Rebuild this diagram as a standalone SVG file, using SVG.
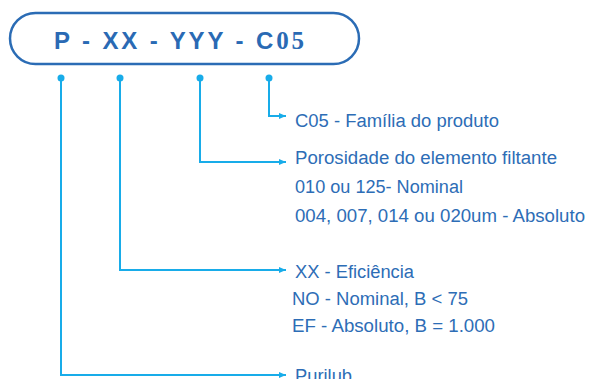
<svg xmlns="http://www.w3.org/2000/svg" width="591" height="379" viewBox="0 0 591 379">
<defs>
<style>
.lbl{font-family:"Liberation Sans",Arial,sans-serif;font-size:18px;fill:#2d6db6}
.ttl{font-family:"Liberation Sans",Arial,sans-serif;font-size:24px;font-weight:bold;fill:#2a6ab4}
.con{fill:none;stroke:#18ace9;stroke-width:2}
.dot{fill:#18ace9}
</style>
<marker id="arr" markerWidth="8" markerHeight="8" refX="7" refY="4" orient="auto" markerUnits="userSpaceOnUse">
<path d="M0,1 L7,4 L0,7 Z" fill="#18ace9"/>
</marker>
</defs>
<rect width="591" height="379" fill="#ffffff"/>
<g id="code">
<rect x="10" y="13" width="349" height="51" rx="25.5" ry="25.5" fill="none" stroke="#2b6cb5" stroke-width="2.5"/>
<text class="ttl" x="54" y="49" textLength="250" lengthAdjust="spacing">P - XX - YYY - C<tspan font-family="'Liberation Serif',serif" font-size="25">05</tspan></text>
</g>
<g id="connectors">
<circle class="dot" cx="61" cy="78" r="3.5"/>
<circle class="dot" cx="120" cy="78" r="3.5"/>
<circle class="dot" cx="200" cy="78" r="3.5"/>
<circle class="dot" cx="269" cy="78" r="3.5"/>
<path class="con" d="M61,78 V375 H286" marker-end="url(#arr)"/>
<path class="con" d="M120,78 V270 H286" marker-end="url(#arr)"/>
<path class="con" d="M200,78 V162 H286" marker-end="url(#arr)"/>
<path class="con" d="M269,78 V116 H286" marker-end="url(#arr)"/>
</g>
<g id="familia">
<text class="lbl" x="295" y="127" textLength="204" lengthAdjust="spacingAndGlyphs">C05 - Família do produto</text>
</g>
<g id="porosidade">
<text class="lbl" x="295" y="164" textLength="262" lengthAdjust="spacingAndGlyphs">Porosidade do elemento filtante</text>
<text class="lbl" x="295" y="193" textLength="168" lengthAdjust="spacingAndGlyphs">010 ou 125- Nominal</text>
<text class="lbl" x="295" y="222" textLength="290" lengthAdjust="spacingAndGlyphs">004, 007, 014 ou 020um - Absoluto</text>
</g>
<g id="eficiencia">
<text class="lbl" x="295" y="278" textLength="119" lengthAdjust="spacingAndGlyphs">XX - Eficiência</text>
<text class="lbl" x="292" y="305" textLength="176" lengthAdjust="spacingAndGlyphs">NO - Nominal,  B &lt; 75</text>
<text class="lbl" x="292" y="332" textLength="203" lengthAdjust="spacingAndGlyphs">EF - Absoluto, B = 1.000</text>
</g>
<g id="purilub">
<text class="lbl" x="295" y="382" textLength="57" lengthAdjust="spacingAndGlyphs">Purilub</text>
</g>
</svg>
